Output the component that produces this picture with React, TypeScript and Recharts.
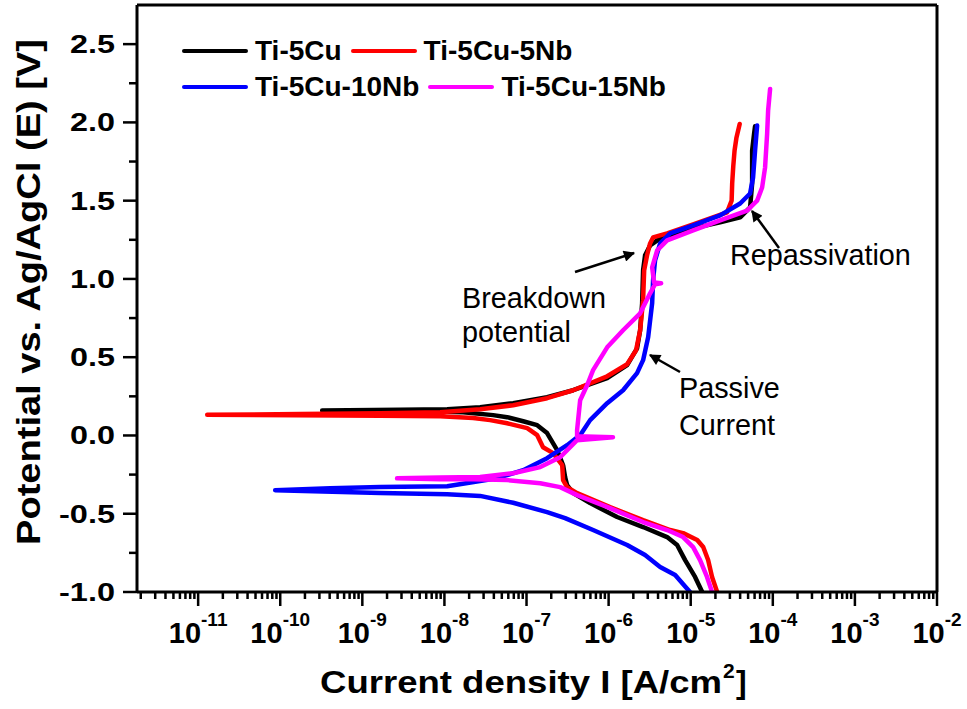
import React from 'react';
import { LineChart, Line, XAxis, YAxis, Legend, ReferenceLine } from 'recharts';

// ---------- data (current density in A/cm², potential in V vs Ag/AgCl) ----------
const seriesNames = ['Ti-5Cu', 'Ti-5Cu-5Nb', 'Ti-5Cu-10Nb', 'Ti-5Cu-15Nb'];
const seriesColors = ['#000000', '#ff0000', '#0000ff', '#ff00ff'];

const ti5CuCurrent = [1.38e-5, 1.13e-5, 8.55e-6, 6.83e-6, 5.16e-6, 2.63e-6, 1.27e-6, 5.95e-7, 3.7e-7, 3.12e-7, 2.95e-7, 2.79e-7, 2.36e-7, 1.78e-7, 1.35e-7, 9.1e-8, 5.8e-8, 3.92e-8, 1.69e-8, 5.06e-9, 3.24e-10, 2.89e-9, 1.08e-8, 2.72e-8, 6.87e-8, 1.78e-7, 3.7e-7, 9.6e-7, 1.68e-6, 2.22e-6, 2.42e-6, 2.56e-6, 2.63e-6, 2.78e-6, 3.2e-6, 4.24e-6, 1.07e-5, 2.28e-5, 4.0e-5, 5.29e-5, 5.6e-5, 5.6e-5, 5.92e-5, 6.08e-5];
const ti5CuPotential = [-1.0, -0.904, -0.796, -0.7, -0.649, -0.585, -0.521, -0.432, -0.368, -0.317, -0.266, -0.19, -0.094, 0.015, 0.066, 0.091, 0.117, 0.13, 0.149, 0.155, 0.16, 0.165, 0.168, 0.181, 0.206, 0.244, 0.289, 0.366, 0.449, 0.557, 0.672, 0.844, 1.055, 1.151, 1.214, 1.259, 1.323, 1.361, 1.393, 1.457, 1.61, 1.82, 1.929, 1.975];

const ti5Cu5NbCurrent = [2.1e-5, 1.82e-5, 1.63e-5, 1.42e-5, 1.2e-5, 8.08e-6, 5.61e-6, 2.63e-6, 1.04e-6, 4.13e-7, 3.12e-7, 2.79e-7, 2.72e-7, 2.11e-7, 1.59e-7, 1.35e-7, 1.02e-7, 5.8e-8, 3.6e-8, 2.24e-8, 8.87e-9, 1.65e-9, 1.29e-11, 1.75e-10, 1.65e-9, 8.87e-9, 2.72e-8, 6.87e-8, 1.78e-7, 3.7e-7, 9.6e-7, 1.68e-6, 2.16e-6, 2.42e-6, 2.63e-6, 2.71e-6, 2.94e-6, 3.2e-6, 3.48e-6, 5.16e-6, 1.07e-5, 2.77e-5, 3.15e-5, 3.2e-5, 3.3e-5, 3.42e-5, 3.6e-5, 3.95e-5];
const ti5Cu5NbPotential = [-1.0, -0.904, -0.796, -0.713, -0.668, -0.624, -0.604, -0.541, -0.458, -0.368, -0.33, -0.285, -0.19, -0.113, -0.075, 0.002, 0.047, 0.078, 0.098, 0.112, 0.122, 0.126, 0.132, 0.137, 0.142, 0.148, 0.168, 0.193, 0.238, 0.289, 0.378, 0.455, 0.544, 0.672, 0.863, 1.055, 1.151, 1.227, 1.265, 1.291, 1.348, 1.425, 1.5, 1.61, 1.72, 1.82, 1.9, 1.99];

const ti5Cu10NbCurrent = [9.8e-6, 6.46e-6, 4.24e-6, 2.78e-6, 1.68e-6, 6.47e-7, 2.95e-7, 1.78e-7, 6.87e-8, 2.72e-8, 1.08e-8, 1.65e-9, 8.67e-11, 4.05e-10, 1.65e-9, 1.08e-8, 4.39e-8, 9.1e-8, 1.78e-7, 3.12e-7, 4.5e-7, 5.95e-7, 9.6e-7, 1.5e-6, 2.22e-6, 2.63e-6, 3.03e-6, 3.39e-6, 3.48e-6, 3.68e-6, 4.24e-6, 5.61e-6, 1.07e-5, 2.28e-5, 4.0e-5, 5.29e-5, 5.75e-5, 6.08e-5, 6.44e-5];
const ti5Cu10NbPotential = [-1.0, -0.892, -0.84, -0.764, -0.7, -0.604, -0.528, -0.49, -0.43, -0.386, -0.375, -0.368, -0.35, -0.337, -0.33, -0.324, -0.273, -0.222, -0.145, -0.062, 0.002, 0.098, 0.206, 0.289, 0.398, 0.481, 0.627, 0.844, 0.991, 1.119, 1.227, 1.291, 1.342, 1.406, 1.482, 1.546, 1.648, 1.82, 1.98];

const ti5Cu15NbCurrent = [1.82e-5, 1.58e-5, 1.3e-5, 1.07e-5, 8.08e-6, 5.16e-6, 2.63e-6, 1.04e-6, 4.13e-7, 2.57e-7, 1.47e-7, 5.8e-8, 2.24e-8, 8.87e-9, 2.65e-9, 8.87e-9, 2.72e-8, 6.87e-8, 1.47e-7, 2.57e-7, 3.4e-7, 4.13e-7, 1.13e-6, 4.13e-7, 4.13e-7, 4.5e-7, 5.47e-7, 6.47e-7, 9.6e-7, 1.5e-6, 2.42e-6, 3.2e-6, 3.68e-6, 4.36e-6, 3.58e-6, 3.39e-6, 3.9e-6, 5.16e-6, 1.07e-5, 2.28e-5, 4.86e-5, 6.44e-5, 7.41e-5, 8.05e-5, 8.53e-5, 8.77e-5, 9.27e-5];
const ti5Cu15NbPotential = [-1.0, -0.904, -0.796, -0.713, -0.649, -0.604, -0.553, -0.464, -0.381, -0.33, -0.305, -0.285, -0.279, -0.279, -0.274, -0.268, -0.266, -0.241, -0.202, -0.139, -0.075, -0.03, -0.011, -0.005, 0.034, 0.225, 0.321, 0.417, 0.563, 0.672, 0.78, 0.908, 0.966, 0.972, 0.978, 1.074, 1.182, 1.246, 1.31, 1.374, 1.437, 1.5, 1.584, 1.712, 1.929, 2.076, 2.214];

// ---------- axes ----------
const xMajorTicks = [1e-11, 1e-10, 1e-9, 1e-8, 1e-7, 1e-6, 1e-5, 1e-4, 1e-3, 1e-2];
const xMajorExponents = ['-11', '-10', '-9', '-8', '-7', '-6', '-5', '-4', '-3', '-2'];
const xMinorDecades = [1e-12, 1e-11, 1e-10, 1e-9, 1e-8, 1e-7, 1e-6, 1e-5, 1e-4, 1e-3];
const xMinorMultipliers = [2, 3, 4, 5, 6, 7, 8, 9];
const xDomain = [1.8e-12, 1e-2];
const yTicks = [-1, -0.75, -0.5, -0.25, 0, 0.25, 0.5, 0.75, 1, 1.25, 1.5, 1.75, 2, 2.25, 2.5];
const yDomain = [-1, 2.75];

const xMinorTicks: number[] = [];
xMinorDecades.forEach((d) => xMinorMultipliers.forEach((m) => { if (d * m >= xDomain[0]) xMinorTicks.push(d * m); }));
const xTicks = [...xMajorTicks, ...xMinorTicks].sort((a, b) => a - b);

const toData = (cur: number[], pot: number[]) => cur.map((i, k) => ({ i, e: pot[k] }));
const seriesData = [
  toData(ti5CuCurrent, ti5CuPotential),
  toData(ti5Cu5NbCurrent, ti5Cu5NbPotential),
  toData(ti5Cu10NbCurrent, ti5Cu10NbPotential),
  toData(ti5Cu15NbCurrent, ti5Cu15NbPotential),
];

const ARIAL = '"Liberation Sans", Arial, sans-serif';

const XTick = (props: any) => {
  const { x, y, payload } = props;
  const idx = xMajorTicks.indexOf(payload.value);
  if (idx < 0) {
    return <line x1={x} x2={x} y1={y} y2={y + 7} stroke="#000" strokeWidth={2.5} />;
  }
  return (
    <g>
      <line x1={x} x2={x} y1={y} y2={y + 14} stroke="#000" strokeWidth={2.5} />
      <text x={x} y={y + 51} textAnchor="middle" fontFamily={ARIAL} fontWeight="bold" fontSize={29} fill="#000">
        <tspan>10</tspan>
        <tspan dy={-17} fontSize={19}>{xMajorExponents[idx]}</tspan>
      </text>
    </g>
  );
};

const YTick = (props: any) => {
  const { x, y, payload } = props;
  const v = payload.value as number;
  const major = Math.abs(v * 2 - Math.round(v * 2)) < 1e-9;
  if (!major) {
    return <line x1={x - 8} x2={x} y1={y} y2={y} stroke="#000" strokeWidth={2.5} />;
  }
  const label = v.toFixed(1);
  return (
    <g>
      <line x1={x - 14} x2={x} y1={y} y2={y} stroke="#000" strokeWidth={2.5} />
      <text x={x - 22} y={y + 9} textAnchor="end" fontFamily={ARIAL} fontWeight="bold" fontSize={26} fill="#000"
        textLength={label.length === 3 ? 45 : 56} lengthAdjust="spacingAndGlyphs">
        {label}
      </text>
    </g>
  );
};

const LegendContent = (props: any) => {
  const payload = ((props.payload || []) as any[]).slice().sort(
    (a, b) => seriesNames.indexOf(a.value) - seriesNames.indexOf(b.value)
  );
  const rows = [payload.slice(0, 2), payload.slice(2, 4)];
  return (
    <div>
      {rows.map((row, r) => (
        <div key={r} style={{ display: 'flex', alignItems: 'center', height: 36 }}>
          {row.map((entry: any, k: number) => (
            <div key={k} style={{ display: 'flex', alignItems: 'center', marginRight: 9 }}>
              <span style={{ display: 'inline-block', width: 66, height: 4, borderRadius: 2, background: entry.color, marginRight: 7 }} />
              <span style={{ fontFamily: ARIAL, fontWeight: 'bold', fontSize: 28, color: '#000', lineHeight: '36px', whiteSpace: 'nowrap' }}>
                {entry.value}
              </span>
            </div>
          ))}
        </div>
      ))}
    </div>
  );
};

export default function App() {
  return (
    <div style={{ position: 'absolute', left: 0, top: 0, width: 967, height: 709, background: '#fff' }}>
      <LineChart width={967} height={709} margin={{ top: 5, right: 30, left: 0, bottom: 0 }}>
        <XAxis
          type="number"
          dataKey="i"
          scale="log"
          domain={xDomain}
          allowDataOverflow
          ticks={xTicks}
          interval={0}
          tick={<XTick />}
          tickLine={false}
          tickSize={0}
          tickMargin={0}
          axisLine={{ stroke: '#000', strokeWidth: 3 }}
          height={117}
        />
        <YAxis
          type="number"
          dataKey="e"
          domain={yDomain}
          allowDataOverflow
          ticks={yTicks}
          interval={0}
          tick={<YTick />}
          tickLine={false}
          tickSize={0}
          tickMargin={0}
          axisLine={{ stroke: '#000', strokeWidth: 3 }}
          width={137}
        />
        <ReferenceLine y={yDomain[1]} stroke="#000" strokeWidth={3} ifOverflow="visible" />
        <ReferenceLine x={xDomain[1]} stroke="#000" strokeWidth={3} ifOverflow="visible" />
        <Legend
          layout="horizontal"
          verticalAlign="middle"
          align="center"
          itemSorter={null as any}
          wrapperStyle={{ left: 182, top: 33, width: 560, height: 72 }}
          content={<LegendContent />}
        />
        {seriesData.map((d, k) => (
          <Line
            key={seriesNames[k]}
            name={seriesNames[k]}
            data={d}
            dataKey="e"
            type="linear"
            stroke={seriesColors[k]}
            strokeWidth={4.5}
            strokeLinejoin="round"
            strokeLinecap="round"
            dot={false}
            activeDot={false}
            isAnimationActive={false}
          />
        ))}
      </LineChart>
      <svg width={967} height={709} style={{ position: 'absolute', left: 0, top: 0, pointerEvents: 'none' }}>
        <defs>
          <marker id="arrowHead" viewBox="0 0 10 10" refX="9" refY="5" markerWidth="5.5" markerHeight="4.5" orient="auto">
            <path d="M0,0 L10,5 L0,10 z" fill="#000" />
          </marker>
        </defs>
        <line x1={575} y1={272} x2={634} y2={253} stroke="#000" strokeWidth={2.5} markerEnd="url(#arrowHead)" />
        <line x1={779} y1={248} x2={752} y2={211} stroke="#000" strokeWidth={2.5} markerEnd="url(#arrowHead)" />
        <line x1={680} y1={372} x2={650} y2={355} stroke="#000" strokeWidth={2.5} markerEnd="url(#arrowHead)" />
        <g fontFamily={ARIAL} fontSize={28.8} fill="#000">
          <text x={730} y={265}>Repassivation</text>
          <text x={462} y={308}>Breakdown</text>
          <text x={462} y={342}>potential</text>
          <text x={679} y={398}>Passive</text>
          <text x={679} y={435}>Current</text>
        </g>
        <text x={320} y={693} fontFamily={ARIAL} fontWeight="bold" fontSize={32} fill="#000"
          textLength={402} lengthAdjust="spacingAndGlyphs">
          Current density I [A/cm
        </text>
        <text x={723} y={678} fontFamily={ARIAL} fontWeight="bold" fontSize={21} fill="#000">2</text>
        <text x={736} y={693} fontFamily={ARIAL} fontWeight="bold" fontSize={32} fill="#000">]</text>
        <text transform="translate(40, 292) rotate(-90)" textAnchor="middle" fontFamily={ARIAL} fontWeight="bold" fontSize={33} fill="#000"
          textLength={506} lengthAdjust="spacingAndGlyphs">
          Potential vs. Ag/AgCl (E) [V]
        </text>
      </svg>
    </div>
  );
}
